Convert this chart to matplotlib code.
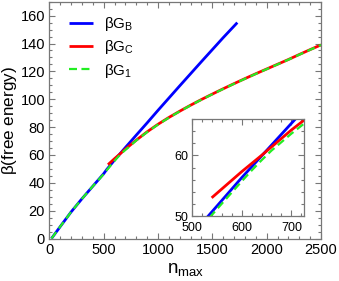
import matplotlib
matplotlib.use("Agg")
import matplotlib.pyplot as plt
from matplotlib.ticker import MultipleLocator

plt.rcParams['font.family'] = ['Liberation Sans', 'DejaVu Sans']
plt.rcParams['mathtext.fontset'] = 'custom'
plt.rcParams['mathtext.rm'] = 'Liberation Sans'

# Data
blue_x = [20, 100, 200, 300, 400, 500, 530, 600, 640, 700, 800, 900, 1000,
          1100, 1200, 1300, 1400, 1500, 1600, 1700, 1730]
blue_y = [0, 8.5, 19, 28.5, 37.5, 46.5, 49.7, 56.3, 59.9, 65.3, 74.2, 83, 92,
          100.8, 109.6, 118.3, 127, 135.6, 144.2, 152.5, 155]

red_x = [540, 600, 640, 700, 800, 900, 1000, 1100, 1200, 1300, 1400, 1500,
         1600, 1700, 1800, 1900, 2000, 2100, 2200, 2300, 2400, 2500]
red_y = [53, 57.3, 60, 64.2, 70.6, 76.6, 82.0, 86.9, 91.4, 95.7, 99.8, 103.7,
         107.5, 111.2, 114.8, 118.3, 121.7, 125.1, 128.5, 132.1, 135.6, 139.0]

green_x = [20, 100, 200, 300, 400, 500, 530, 560, 600, 620, 640, 660, 700,
           720, 800, 900, 1000, 1100, 1200, 1300, 1400, 1500, 1600, 1700,
           1800, 1900, 2000, 2100, 2200, 2300, 2400, 2500]
green_y = [0, 8.5, 19, 28.5, 37.5, 46.2, 49.2, 52.0, 55.7, 57.5, 59.2, 60.8,
           63.6, 64.9, 70.4, 76.4, 81.8, 86.7, 91.3, 95.6, 99.7, 103.6,
           107.4, 111.1, 114.7, 118.2, 121.6, 125.0, 128.4, 132.0, 135.5, 139.0]

labels = [r'$\mathregular{\beta G_B}$', r'$\mathregular{\beta G_C}$',
          r'$\mathregular{\beta G_1}$']

BLUE = '#0000ff'
RED = '#ff0000'
GREEN = '#22ee22'
SPINE = '#777777'

fig = plt.figure(figsize=(3.39, 2.81), dpi=100)
ax = fig.add_axes([0.1454, 0.1512, 0.8015, 0.8427])

def draw(a, lw):
    a.plot(blue_x, blue_y, color=BLUE, lw=lw, label=labels[0], solid_capstyle='butt')
    a.plot(red_x, red_y, color=RED, lw=lw, label=labels[1], solid_capstyle='butt')
    a.plot(green_x, green_y, color=GREEN, lw=lw * 0.8, label=labels[2],
           dashes=(3.6, 2.0))

draw(ax, 2.0)
ax.set_xlim(0, 2500)
ax.set_ylim(0, 170)
ax.xaxis.set_major_locator(MultipleLocator(500))
ax.xaxis.set_minor_locator(MultipleLocator(100))
ax.yaxis.set_major_locator(MultipleLocator(20))
ax.yaxis.set_minor_locator(MultipleLocator(5))
ax.tick_params(which='both', direction='in', top=True, right=True,
               color=SPINE, labelsize=10.5)
ax.tick_params(axis='x', pad=3)
ax.tick_params(axis='y', pad=3)
ax.tick_params(which='major', length=4.5, width=0.8)
ax.tick_params(which='minor', length=2.5, width=0.8)
for s in ax.spines.values():
    s.set_color(SPINE)
    s.set_linewidth(0.9)
ax.set_xlabel(r'$\mathregular{n_{max}}$', fontsize=13.5)
ax.xaxis.set_label_coords(0.5, -0.095)
ax.set_ylabel(r'$\mathregular{\beta}$(free energy)', fontsize=12.3)
ax.yaxis.set_label_coords(-0.112, 0.5)

leg = ax.legend(loc='upper left', frameon=False, fontsize=11,
                handlelength=1.6, handletextpad=0.7, labelspacing=0.35,
                borderaxespad=0.0, bbox_to_anchor=(0.05, 0.97))

# Inset
axin = fig.add_axes([0.5655, 0.2313, 0.331, 0.345])
draw(axin, 2.0)
axin.set_xlim(500, 725)
axin.set_ylim(50, 66)
axin.xaxis.set_major_locator(MultipleLocator(100))
axin.xaxis.set_minor_locator(MultipleLocator(20))
axin.yaxis.set_major_locator(MultipleLocator(10))
axin.yaxis.set_minor_locator(MultipleLocator(2))
axin.tick_params(which='both', direction='in', top=True, right=True,
                 color=SPINE, labelsize=9.0)
axin.tick_params(axis='x', pad=4.5)
axin.tick_params(axis='y', pad=2.5)
axin.tick_params(which='major', length=4, width=0.8)
axin.tick_params(which='minor', length=2.2, width=0.8)
for s in axin.spines.values():
    s.set_color(SPINE)
    s.set_linewidth(0.9)

fig.savefig('out.png', dpi=100)
